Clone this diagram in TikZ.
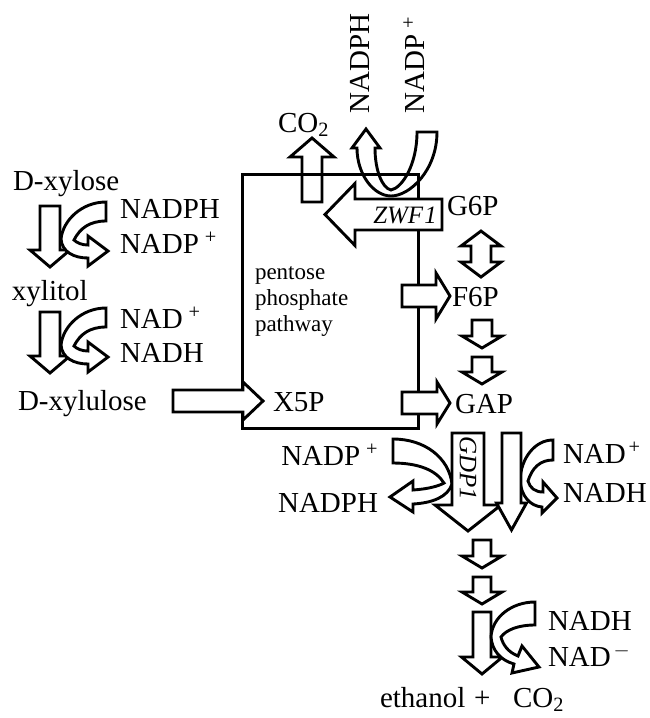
\documentclass[tikz,border=0pt]{standalone}
\usepackage{fontspec}
\setmainfont{Liberation Serif}
% vertical block arrow: x, start, headbase, tip, shaft half width, head half width
\newcommand\vblk[6]{%
 \draw[blk] ({#1-#5},#2) -- ({#1+#5},#2) -- ({#1+#5},#3) -- ({#1+#6},#3) -- (#1,#4) -- ({#1-#6},#3) -- ({#1-#5},#3) -- cycle;}
% horizontal block arrow: y, start, headbase, tip, shaft half height, head half height
\newcommand\hblk[6]{%
 \draw[blk] (#2,{#1-#5}) -- (#3,{#1-#5}) -- (#3,{#1-#6}) -- (#4,#1) -- (#3,{#1+#6}) -- (#3,{#1+#5}) -- (#2,{#1+#5}) -- cycle;}
\begin{document}
\begin{tikzpicture}[x=1pt,y=-1pt,
  blk/.style={draw=black,line width=2.9pt,fill=white,line join=miter,miter limit=10},
  bx/.style={draw=black,line width=3pt},
  lbl/.style={inner sep=0pt,outer sep=0pt,font=\fontsize{29}{34}\selectfont},
  sml/.style={inner sep=0pt,outer sep=0pt,font=\fontsize{23}{27}\selectfont},
  enz/.style={inner sep=0pt,outer sep=0pt,font=\fontsize{25}{30}\selectfont\itshape}]
\useasboundingbox (0,0) rectangle (649,718);

% ---------- left column: xylose -> xylulose ----------
\node[lbl,anchor=base west] (xylose) at (13,190) {D-xylose};
\vblk{50}{206}{250}{267}{10}{20}
\draw[blk] (106,202) .. controls (82,202) and (63,220) .. (61,239)
  .. controls (62,252) and (74,258) .. (88,258) -- (88,266) -- (108,251) -- (88,236) -- (88,245)
  .. controls (82,245) and (77,243) .. (74,240)
  .. controls (80,228) and (90,221) .. (106,221) -- cycle;
\node[lbl,anchor=base west] (nadph1) at (120,218) {NADPH};
\node[lbl,anchor=base west] (nadp1) at (120,253) {NADP\hspace{0.2em}\textsuperscript{+}};

\node[lbl,anchor=base west] (xylitol) at (12,300) {xylitol};
\vblk{50}{312}{356}{373}{10}{20}
\draw[blk] (106,308) .. controls (82,308) and (63,326) .. (61,345)
  .. controls (62,358) and (74,364) .. (88,364) -- (88,372) -- (108,357) -- (88,342) -- (88,351)
  .. controls (82,351) and (77,349) .. (74,346)
  .. controls (80,334) and (90,327) .. (106,327) -- cycle;
\node[lbl,anchor=base west] (nad1) at (120,328) {NAD\hspace{0.2em}\textsuperscript{+}};
\node[lbl,anchor=base west] (nadh1) at (120,362) {NADH};

\node[lbl,anchor=base west] (xylulose) at (18,410) {D-xylulose};

% ---------- top: U arrow and CO2 ----------
\draw[blk] (357,148) .. controls (357,175) and (374,196) .. (391,196)
  .. controls (410,196) and (437,170) .. (437,132) -- (417,132)
  .. controls (417,165) and (402,188) .. (391,190)
  .. controls (382,188) and (375,170) .. (375,148)
  -- (380,148) -- (366,129) -- (352,148) -- cycle;
\vblk{312}{202}{157}{138}{10}{22}
\node[lbl,anchor=base west] (co2a) at (278,132) {CO\textsubscript{2}};
\node[lbl,anchor=base west,rotate=90] (nadph2) at (369,113) {NADPH};
\node[lbl,anchor=base west,rotate=90] (nadp2) at (424,113) {NADP\hspace{0.2em}\textsuperscript{+}};

% ---------- pentose phosphate box ----------
\draw[bx] (242,174) rectangle (418,428);
\node[sml,anchor=base west] (pent) at (255,279) {pentose};
\node[sml,anchor=base west] (phos) at (255,305) {phosphate};
\node[sml,anchor=base west] (path) at (255,331) {pathway};

% ZWF1 arrow
\hblk{214.5}{442}{355}{325}{15.5}{31}
\node[enz] (zwf) at (405,215) {ZWF\kern1pt 1};
\node[lbl,anchor=base west] (g6p) at (447,215) {G6P};

% G6P <-> F6P
\draw[blk] (481,231) -- (501,246) -- (491,246) -- (491,262) -- (501,262) -- (481,277)
  -- (461,262) -- (471,262) -- (471,246) -- (461,246) -- cycle;

% F6P arrow
\hblk{296}{402}{436}{450}{11}{23}
\node[lbl,anchor=base west] (f6p) at (452,306) {F6P};
\vblk{482}{320}{336}{348}{10}{20}
\vblk{482}{357}{372}{384}{10}{20}
% GAP arrow
\hblk{403}{402}{437}{450}{11}{21}
\node[lbl,anchor=base west] (gap) at (455,413) {GAP};
% X5P arrow
\hblk{401}{173}{243}{263}{11}{19}
\node[lbl,anchor=base west] (x5p) at (273,411) {X5P};

% ---------- GDP1 region ----------
\draw[blk] (393,439) .. controls (425,439) and (449,458) .. (452,484)
  .. controls (448,497) and (432,503) .. (413,504)
  -- (413,512) -- (390,497) -- (413,481) -- (413,490)
  .. controls (428,489) and (439,486) .. (444,483)
  .. controls (436,470) and (418,463) .. (393,463) -- cycle;
\draw[blk] (553,440) .. controls (535,440) and (521,458) .. (520,480)
  .. controls (521,496) and (530,506) .. (542,507)
  -- (542,513) -- (557,498) -- (543,482) -- (543,492)
  .. controls (535,492) and (530,488) .. (528,481)
  .. controls (532,468) and (540,460) .. (553,460) -- cycle;
\vblk{468}{433}{505}{531}{16}{33}
\vblk{511.5}{433}{503}{530}{9.5}{15}
\node[enz,rotate=-90] (gdp) at (468,468) {GDP1};
\node[lbl,anchor=base east] (nadp3) at (378,465) {NADP\hspace{0.2em}\textsuperscript{+}};
\node[lbl,anchor=base east] (nadph3) at (378,512) {NADPH};
\node[lbl,anchor=base west] (nad3) at (563,463) {NAD\hspace{0.1em}\textsuperscript{+}};
\node[lbl,anchor=base west] (nadh3) at (563,502) {NADH};

% ---------- to ethanol ----------
\vblk{482}{540}{556}{568}{9}{20}
\vblk{482}{577}{592}{604}{9}{20}
\vblk{482}{612}{657}{674}{9}{20.5}
\draw[blk] (535,602) .. controls (512,602) and (492,617) .. (491,637)
  .. controls (492,650) and (500,660) .. (514,664)
  -- (512,673) -- (539,667) -- (522,646) -- (518,656)
  .. controls (508,652) and (503,645) .. (501,637)
  .. controls (506,630) and (518,625) .. (535,625) -- cycle;
\node[lbl,anchor=base west] (nadh4) at (548,630) {NADH};
\node[lbl,anchor=base west] (nad4) at (548,666) {NAD\hspace{0.1em}$^{-}$};

\node[lbl,anchor=base west] (eth) at (380,707) {ethanol};
\node[lbl,anchor=base west] (plus) at (474,707) {+};
\node[lbl,anchor=base west] (co2b) at (513,707) {CO\textsubscript{2}};
\end{tikzpicture}
\end{document}
